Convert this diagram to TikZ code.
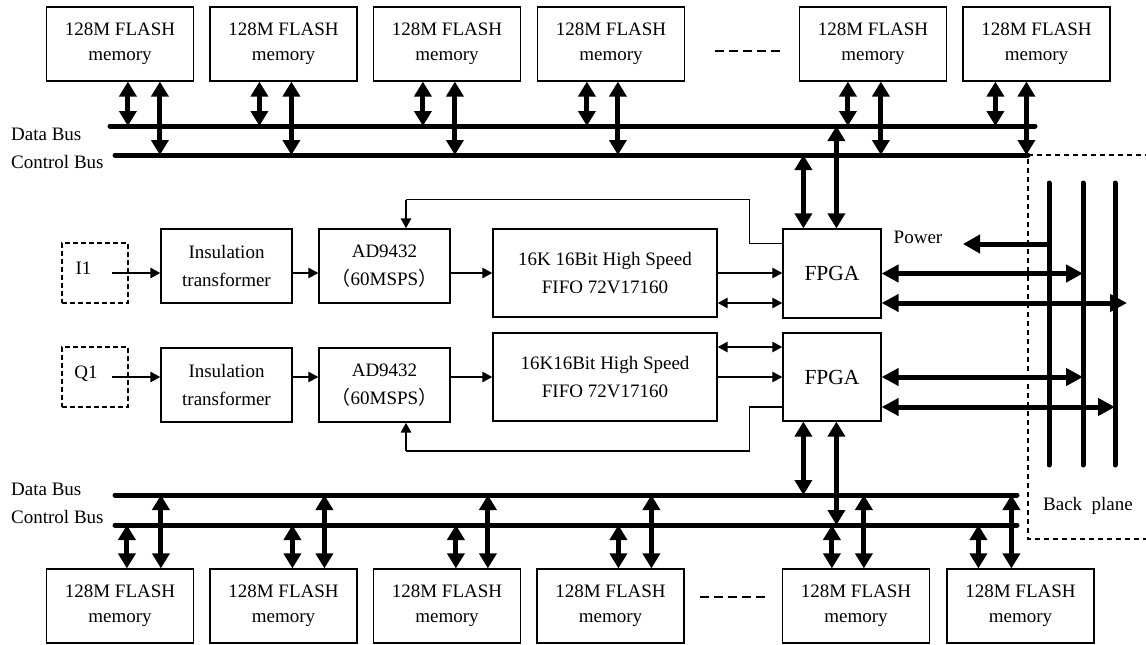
\documentclass[tikz,border=0pt]{standalone}
\usepackage{fontspec}
\setmainfont{Liberation Serif}
\newfontfamily\cjk{Noto Sans CJK SC}
\usetikzlibrary{arrows.meta,positioning}

\begin{document}
\begin{tikzpicture}[x=1pt, y=-1pt, font=\fontsize{19}{25}\selectfont]

\tikzstyle{mem}=[draw, line width=1.2pt, minimum width=147pt, minimum height=74pt, inner sep=0pt, align=center]
\tikzstyle{blk}=[draw, line width=1.2pt, inner sep=0pt, align=center, font=\fontsize{19}{28.5}\selectfont]
\tikzstyle{src}=[draw, line width=2pt, dash pattern=on 5pt off 3pt, minimum width=66pt, minimum height=60pt, inner sep=0pt]
\tikzstyle{lab}=[inner sep=0pt]
\tikzstyle{bus}=[line width=5pt, line cap=round]
\tikzstyle{busio}=[line width=5pt, {Triangle[length=15pt,width=17pt]}-{Triangle[length=15pt,width=17pt]}]
\tikzstyle{bigio}=[line width=5pt, {Triangle[length=17pt,width=17pt]}-{Triangle[length=17pt,width=17pt]}]
\tikzstyle{bigto}=[line width=5pt, -{Triangle[length=17pt,width=18pt]}]
\tikzstyle{sig}=[line width=2.5pt, -{Triangle[length=10pt,width=10pt]}]
\tikzstyle{sigio}=[line width=2.5pt, {Triangle[length=10pt,width=10pt]}-{Triangle[length=10pt,width=10pt]}]
\tikzstyle{fb}=[line width=1.2pt]

\useasboundingbox (0,0) rectangle (1146,645);

% flash memories
\foreach \n/\x in {M1/120, M2/283.5, M3/447, M4/611, M5/873, M6/1036.5}
  \node[mem] (\n) at (\x,44) {128M FLASH\\memory};
\foreach \n/\x in {B1/120, B2/283.5, B3/447, B4/610.5, B5/856, B6/1020.5}
  \node[mem] (\n) at (\x,606) {128M FLASH\\memory};

% signal chain
\node[src] (I1) at (95,273) {};
\node[src] (Q1) at (95,377) {};
\node[lab, anchor=base] (I1t) at (83.5,274) {I1};
\node[lab, anchor=base] (Q1t) at (86,378) {Q1};
\node[blk, minimum width=131pt, minimum height=74pt] (Ins1) at (226.5,266) {Insulation\\transformer};
\node[blk, minimum width=131pt, minimum height=74pt] (Ins2) at (226.5,385) {Insulation\\transformer};
\node[blk, minimum width=131pt, minimum height=74pt] (AD1) at (384.5,266) {AD9432\\{\cjk （}60MSPS{\cjk ）}};
\node[blk, minimum width=131pt, minimum height=74pt] (AD2) at (384.5,385) {AD9432\\{\cjk （}60MSPS{\cjk ）}};
\node[blk, minimum width=224pt, minimum height=88pt] (FIFO1) at (605,273) {16K 16Bit High Speed\\FIFO 72V17160};
\node[blk, minimum width=224pt, minimum height=88pt] (FIFO2) at (605,377) {16K16Bit High Speed\\FIFO 72V17160};
\node[blk, minimum width=98pt, minimum height=89pt, font=\fontsize{21.5}{25}\selectfont] (FPGA1) at (832,273.5) {FPGA};
\node[blk, minimum width=98pt, minimum height=88pt, font=\fontsize{21.5}{25}\selectfont] (FPGA2) at (832,377) {FPGA};

% labels
\node[lab, anchor=base west] (dbTl) at (11,140) {Data Bus};
\node[lab, anchor=base west] (cbTl) at (11,168) {Control Bus};
\node[lab, anchor=base west] (dbBl) at (11,495) {Data Bus};
\node[lab, anchor=base west] (cbBl) at (11,523) {Control Bus};
\node[lab, anchor=base] (pwl) at (918,243) {Power};
\node[lab, anchor=base] (bpl) at (1088,510) {Back\ \ plane};

% buses
\coordinate (dbT) at (110,126);  \coordinate (dbTe) at (1035,126);
\coordinate (cbT) at (115,155);  \coordinate (cbTe) at (1028,155);
\coordinate (dbB) at (115,495);  \coordinate (dbBe) at (1017,495);
\coordinate (cbB) at (115,525);  \coordinate (cbBe) at (1017,525);
\draw[bus] (dbT) -- (dbTe);
\draw[bus] (cbT) -- (cbTe);
\draw[bus] (dbB) -- (dbBe);
\draw[bus] (cbB) -- (cbBe);

% back plane
\coordinate (bp1t) at (1049,183); \coordinate (bp1b) at (1049,465);
\coordinate (bp2t) at (1083,183); \coordinate (bp2b) at (1083,465);
\coordinate (bp3t) at (1115,183); \coordinate (bp3b) at (1115,465);
\draw[bus] (bp1t) -- (bp1b);
\draw[bus] (bp2t) -- (bp2b);
\draw[bus] (bp3t) -- (bp3b);
\draw[line width=1.5pt, dash pattern=on 5pt off 4pt] (1150,155) -- (cbTe) -- (1028,539) -- (1150,539);

% memories to buses
\foreach \m/\a/\b in {M1/82/114, M2/50/82, M3/50/82, M4/50/81, M5/49/82, M6/33/64} {
  \draw[busio] ([xshift=\a]\m.south west) -- ([xshift=\a]\m.south west |- dbT);
  \draw[busio] ([xshift=\b]\m.south west) -- ([xshift=\b]\m.south west |- cbT);
}
\foreach \m/\a/\b in {B1/81/115, B2/83/115, B3/83/115, B4/82/115, B5/50/82, B6/32/65} {
  \draw[busio] ([xshift=\a]\m.north west) -- ([xshift=\a]\m.north west |- cbB);
  \draw[busio] ([xshift=\b]\m.north west) -- ([xshift=\b]\m.north west |- dbB);
}

% FPGA to buses
\draw[busio] ([xshift=21]FPGA1.north west) -- ([xshift=21]FPGA1.north west |- cbT);
\draw[busio] ([xshift=54]FPGA1.north west) -- ([xshift=54]FPGA1.north west |- dbT);
\draw[busio] ([xshift=21]FPGA2.south west) -- ([xshift=21]FPGA2.south west |- dbB);
\draw[busio] ([xshift=54]FPGA2.south west) -- ([xshift=54]FPGA2.south west |- cbB);

% FPGA to back plane
\coordinate (pw) at (963,244);
\draw[bigto] (bp1t |- pw) -- (pw);
\draw[bigio] (FPGA1.east) -- (FPGA1.east -| bp2t);
\draw[bigio, shorten >=-12pt] ([yshift=-29.5]FPGA1.east) -- ([yshift=-29.5]FPGA1.east -| bp3t);
\draw[bigio] (FPGA2.east) -- (FPGA2.east -| bp2t);
\draw[bigio] ([yshift=-30]FPGA2.east) -- ([yshift=-30]FPGA2.east -| bp3t);

% I channel
\draw[sig] ([xshift=-17]I1.east) -- (Ins1.west |- I1.east);
\draw[sig] (Ins1.east |- I1.east) -- (AD1.west |- I1.east);
\draw[sig] (AD1.east |- FIFO1.west) -- (FIFO1.west);
\draw[sig] (FIFO1.east) -- (FIFO1.east -| FPGA1.west);
\draw[sigio] ([yshift=-30]FIFO1.east) -- ([yshift=-30]FIFO1.east -| FPGA1.west);

% Q channel
\draw[sig] ([xshift=-17]Q1.east) -- (Ins2.west |- Q1.east);
\draw[sig] (Ins2.east |- Q1.east) -- (AD2.west |- Q1.east);
\draw[sig] (AD2.east |- FIFO2.west) -- (FIFO2.west);
\draw[sigio] ([yshift=30]FIFO2.east) -- ([yshift=30]FIFO2.east -| FPGA2.west);
\draw[sig] (FIFO2.east) -- (FIFO2.east -| FPGA2.west);

% clock feedback
\coordinate (fb1) at (406,199.5);
\coordinate (fb2) at (406,451);
\draw[fb] ([yshift=30]FPGA1.west) -- ++(-33,0) -- ++(0,-44) -- (fb1);
\draw[sig] (fb1) -- (fb1 |- AD1.north);
\draw[fb] ([yshift=-30]FPGA2.west) -- ++(-33,0) -- ++(0,44) -- (fb2);
\draw[sig] (fb2) -- (fb2 |- AD2.south);

% more memories
\draw[line width=1.5pt, dash pattern=on 9pt off 5pt] (715,51) -- (783,51);
\draw[line width=1.5pt, dash pattern=on 9pt off 5pt] (700,597) -- (767,597);

\end{tikzpicture}
\end{document}
